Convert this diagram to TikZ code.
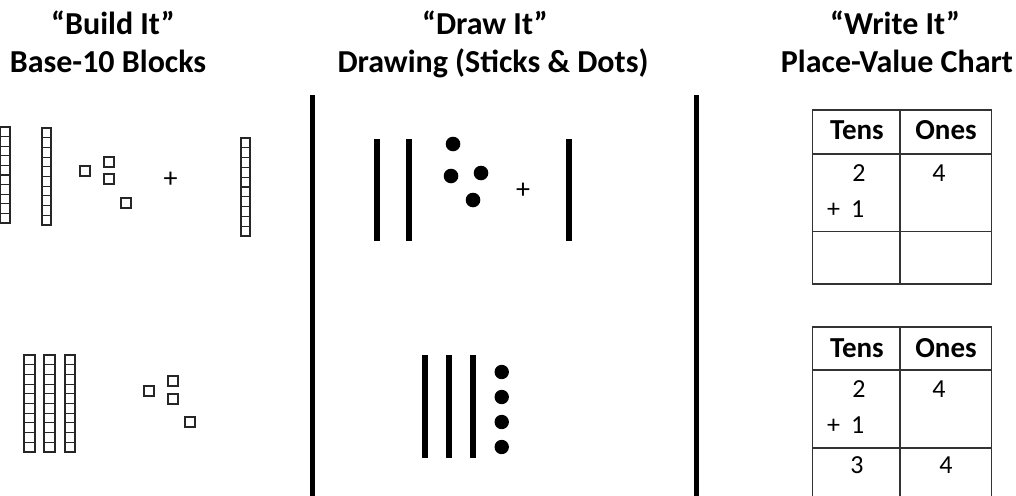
\documentclass[tikz,border=0pt]{standalone}
\usepackage{fontspec}
\setmainfont{Carlito}
\begin{document}
\begin{tikzpicture}[x=1pt,y=-1pt,
  head/.style={anchor=base,inner sep=0pt,font=\fontsize{32}{38}\selectfont\bfseries},
  thead/.style={anchor=base,inner sep=0pt,font=\fontsize{29}{34}\selectfont\bfseries},
  num/.style={anchor=base,inner sep=0pt,font=\fontsize{26}{30}\selectfont},
  plus/.style={anchor=center,inner sep=0pt,font=\fontsize{28}{32}\selectfont},
  cube/.style={draw=black!85,line width=1.1pt},
  divider/.style={line width=5pt,black},
  stick/.style={line width=6pt,black},
  dot/.style={fill=black},
  grid/.style={draw=black!80,line width=1.1pt}
]
\useasboundingbox (0,0) rectangle (1016,495);
\clip (0,0) rectangle (1016,495);
\fill[white] (0,0) rectangle (1016,495);

% headers
\node[head] (h1a) at (113,35) {“Build It”};
\node[head] (h1b) at (108,72) {Base-10 Blocks};
\node[head] (h2a) at (485,35) {“Draw It”};
\node[head] (h2b) at (493,72) {Drawing (Sticks \& Dots)};
\node[head] (h3a) at (895,35) {“Write It”};
\node[head] (h3b) at (897,72) {Place-Value Chart};

% dividers
\draw[divider] (312.7,95) -- (312.7,500);
\draw[divider] (696.7,95) -- (696.7,500);

% rods
\foreach \x/\w/\t/\b in {0.6/9.4/127/223, 42/9/128/225, 241/9/138/236, 24/11/355/452, 44/11/355/452, 65/10/355/452}{
  \pgfmathsetmacro{\h}{(\b-\t)/10}
  \draw[cube] (\x,\t) rectangle (\x+\w,\b);
  \foreach \i in {1,...,9}{
    \draw[cube] (\x,\t+\i*\h) -- (\x+\w,\t+\i*\h);
  }
}

% unit cubes
\foreach \x/\y in {80/166, 104/157, 104/174, 121/198, 144/386, 168/376, 168/394, 185/417}{
  \draw[cube] (\x,\y) rectangle (\x+10,\y+10);
}
\node[plus] (p1) at (170.5,180) {+};

% drawing top
\draw[stick] (376.7,139) -- (376.7,241);
\draw[stick] (409,139) -- (409,241);
\draw[stick] (569,139) -- (569,241);
\foreach \x/\y in {453/144, 451/176, 481/173, 473/200}{
  \fill[dot] (\x,\y) circle (7.3);
}
\node[plus] (p2) at (523,191) {+};

% drawing bottom
\draw[stick] (425,355) -- (425,458);
\draw[stick] (449,355) -- (449,458);
\draw[stick] (473,355) -- (473,458);
\foreach \y in {372,397,422,447}{
  \fill[dot] (501.7,\y) circle (7.2);
}

% table top
\draw[grid] (812.7,110) rectangle (991.7,284);
\draw[grid] (812.7,154) -- (991.7,154);
\draw[grid] (812.7,231.7) -- (991.7,231.7);
\draw[grid] (900,110) -- (900,284);
\node[thead] (t1) at (857,139) {Tens};
\node[thead] (o1) at (946,139) {Ones};
\node[num] (a1) at (859,181) {2};
\node[num] (b1) at (939,181) {4};
\node[num,anchor=base west] (c1) at (827,217) {+\hspace{11pt}1};

% table bottom
\draw[grid] (812.7,520) -- (812.7,327) -- (991.7,327) -- (991.7,520);
\draw[grid] (812.7,370) -- (991.7,370);
\draw[grid] (812.7,448) -- (991.7,448);
\draw[grid] (900,327) -- (900,520);
\node[thead] (t2) at (857,357) {Tens};
\node[thead] (o2) at (946,357) {Ones};
\node[num] (a2) at (859,397) {2};
\node[num] (b2) at (939,397) {4};
\node[num,anchor=base west] (c2) at (827,433) {+\hspace{11pt}1};
\node[num] (d2) at (857,473) {3};
\node[num] (e2) at (946,473) {4};
\end{tikzpicture}
\end{document}
